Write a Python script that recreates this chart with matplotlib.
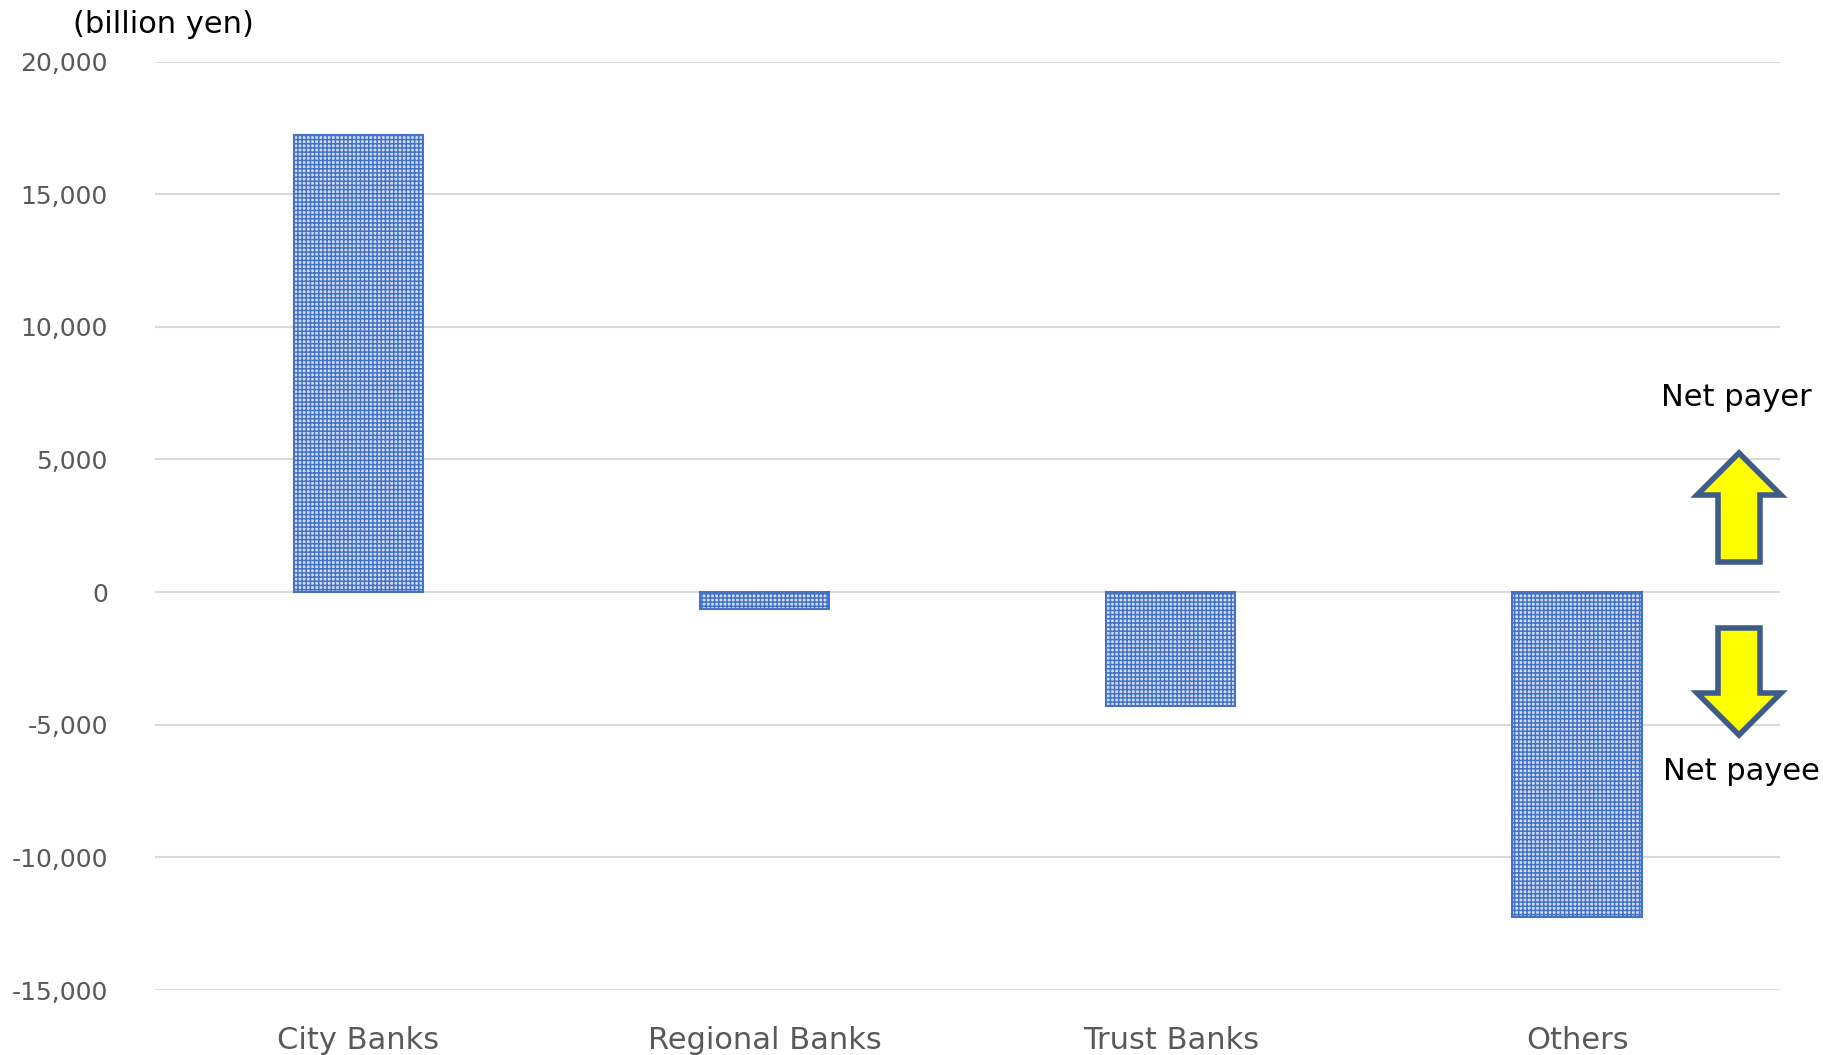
import numpy as np
import matplotlib.pyplot as plt
from matplotlib.patches import Polygon

categories = ["City Banks", "Regional Banks", "Trust Banks", "Others"]
values = [17250, -650, -4300, -12250]
yticks = [-15000, -10000, -5000, 0, 5000, 10000, 15000, 20000]

plt.rcParams['hatch.color'] = '#4f7bc8'
plt.rcParams['hatch.linewidth'] = 1.1

fig = plt.figure(figsize=(18.24, 10.55), dpi=100)
ax = fig.add_axes([0.085, 0.0616, 0.891, 0.88])

x = np.arange(len(categories))
ax.bar(x, values, width=0.318, color='#d3def3', edgecolor='#4472C4',
       linewidth=1.5, hatch='++++', zorder=3)

ax.set_xlim(-0.5, 3.5)
ax.set_ylim(-15000, 20000)
ax.set_yticks(yticks)
ax.set_yticklabels([f"{v:,}" for v in yticks])
ax.set_xticks(x)
ax.set_xticklabels(categories)
ax.tick_params(axis='y', length=0, labelsize=18, labelcolor='#595959', pad=34)
ax.tick_params(axis='x', length=0, labelsize=22, labelcolor='#595959', pad=26)
ax.grid(axis='y', color='#d9d9d9', linewidth=1.5, zorder=0)
for s in ax.spines.values():
    s.set_visible(False)

fig.text(0.04, 0.977, "(billion yen)", fontsize=22, ha='left', va='center')
fig.text(0.952, 0.623, "Net payer", fontsize=22, ha='center', va='center')
fig.text(0.955, 0.269, "Net payee", fontsize=22, ha='center', va='center')

# yellow arrows, drawn in inches
def arrow(cx, y0, y1):
    d = 1 if y1 > y0 else -1
    sw, hw, hh = 0.21, 0.42, 0.42
    yb = y1 - d * hh
    pts = [(cx - sw, y0), (cx + sw, y0), (cx + sw, yb), (cx + hw, yb),
           (cx, y1), (cx - hw, yb), (cx - sw, yb)]
    fig.patches.append(Polygon(pts, closed=True, facecolor='#FFFF00',
                               edgecolor='#3E5C8A', linewidth=4,
                               joinstyle='miter',
                               transform=fig.dpi_scale_trans))

arrow(17.39, 4.93, 6.02)
arrow(17.39, 4.27, 3.20)

fig.savefig("out.png", dpi=100)
